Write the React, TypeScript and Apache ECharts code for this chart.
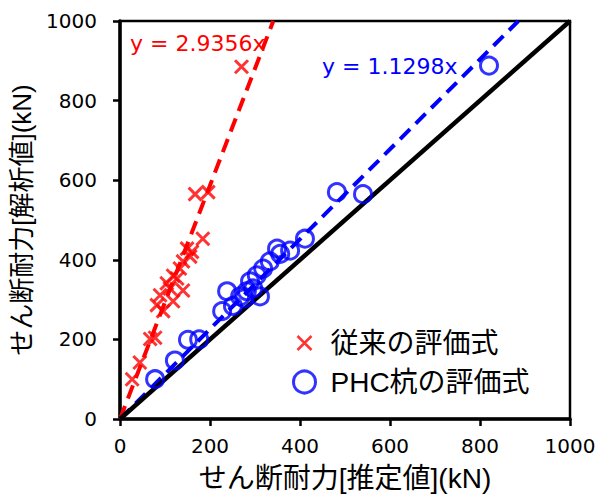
import React, { useEffect, useRef } from "react";
import * as echarts from "echarts";

const xTicks = [0, 200, 400, 600, 800, 1000];
const redSlope = 2.9356;
const blueSlope = 1.1298;
const redLabel = "y = 2.9356x";
const blueLabel = "y = 1.1298x";
const seriesNames = ["従来の評価式", "PHC杭の評価式"];
const xName = "せん断耐力[推定値](kN)";
const yName = "せん断耐力[解析値](kN)";

const redPoints: number[][] = [
  [27, 100], [44, 142], [67, 201], [78, 204], [82, 286], [89, 311], [96, 271],
  [104, 341], [111, 328], [118, 296], [118, 360], [127, 353], [133, 378],
  [140, 323], [140, 396], [149, 428], [156, 408], [160, 420], [184, 453],
  [167, 565], [196, 570], [270, 885],
];

const bluePoints: number[][] = [
  [78, 100], [122, 147], [151, 199], [176, 200], [227, 271], [238, 321],
  [251, 284], [267, 308], [276, 303], [282, 321], [289, 346], [296, 328],
  [304, 361], [311, 308], [318, 378], [333, 396], [349, 428], [356, 415],
  [378, 423], [411, 453], [482, 570], [540, 565], [820, 888],
];

const FONT = "'DejaVu Sans', 'Noto Sans CJK JP', sans-serif";
const CJK = "'Liberation Sans', 'Noto Sans CJK JP', sans-serif";

export default function App() {
  const ref = useRef<HTMLDivElement>(null);
  useEffect(() => {
    document.body.style.margin = "0";
    if (!ref.current) return;
    const chart = echarts.init(ref.current, null, { renderer: "svg" });
    const crossSym = "path://M0,0L10,10M10,0L0,10";
    const crossLegend = "path://M0,0M22,22M4,4L18,18M18,4L4,18";
    chart.setOption({
      animation: false,
      textStyle: { fontFamily: FONT },
      grid: {
        left: 120, top: 21, right: 29, bottom: 75,
        show: true, borderColor: "#000", borderWidth: 2.5,
      },
      xAxis: {
        type: "value", min: xTicks[0], max: xTicks[xTicks.length - 1], interval: 200,
        name: xName, nameLocation: "middle", nameGap: 45,
        nameTextStyle: { fontSize: 28, color: "#000", fontFamily: CJK },
        axisLine: { lineStyle: { color: "#000", width: 3.5 } },
        axisTick: { show: true, length: 7, lineStyle: { color: "#000", width: 2.5 } },
        axisLabel: { fontSize: 20, color: "#000", margin: 17, formatter: (v: number) => String(v) },
        splitLine: { show: false },
      },
      yAxis: {
        type: "value", min: 0, max: 1000, interval: 200,
        name: yName, nameLocation: "middle", nameGap: 80, nameRotate: 90,
        nameTextStyle: { fontSize: 26, color: "#000", fontFamily: CJK },
        axisLine: { lineStyle: { color: "#000", width: 3.5 } },
        axisTick: { show: true, length: 7, lineStyle: { color: "#000", width: 2.5 } },
        axisLabel: { fontSize: 20, color: "#000", margin: 23, formatter: (v: number) => String(v) },
        splitLine: { show: false },
      },
      legend: {
        left: 286, top: 323, orient: "vertical", itemGap: 9,
        itemWidth: 22, itemHeight: 22,
        textStyle: { fontSize: 28, lineHeight: 30, color: "#000", fontFamily: CJK, padding: [0, 0, 0, 10] },
        data: [
          { name: seriesNames[0], icon: crossLegend,
            itemStyle: { color: "none", borderColor: "#ff0000", borderWidth: 2.5 } },
          { name: seriesNames[1], icon: "circle",
            itemStyle: { color: "none", borderColor: "#0000ff", borderWidth: 3 } },
        ],
      },
      graphic: [
        { type: "text", left: 130, top: 32,
          style: { text: redLabel, fill: "#ff0000", fontSize: 22, fontFamily: FONT } },
        { type: "text", left: 322, top: 55,
          style: { text: blueLabel, fill: "#0000ff", fontSize: 22, fontFamily: FONT } },
      ],
      series: [
        {
          type: "line", name: "1:1", data: [[0, 0], [1000, 1000]],
          symbol: "none", silent: true,
          lineStyle: { color: "#000", width: 4.5 }, z: 3,
        },
        {
          type: "line", name: "redfit", data: [[0, 0], [1000 / redSlope, 1000]],
          symbol: "none", silent: true,
          lineStyle: { color: "#ff0000", width: 4, type: [14, 8] }, z: 2,
        },
        {
          type: "line", name: "bluefit", data: [[0, 0], [1000 / blueSlope, 1000]],
          symbol: "none", silent: true,
          lineStyle: { color: "#0000ff", width: 4, type: [14, 8] }, z: 2,
        },
        {
          type: "scatter", name: seriesNames[0], data: redPoints,
          symbol: crossSym, symbolSize: 13,
          itemStyle: { color: "none", borderColor: "#ff0000", borderWidth: 3 }, z: 4,
        },
        {
          type: "scatter", name: seriesNames[1], data: bluePoints,
          symbol: "circle", symbolSize: 17,
          itemStyle: { color: "none", borderColor: "#0000ff", borderWidth: 3 }, z: 4,
        },
      ],
    });
    return () => chart.dispose();
  }, []);
  return <div ref={ref} style={{ width: 599, height: 497 }} />;
}
